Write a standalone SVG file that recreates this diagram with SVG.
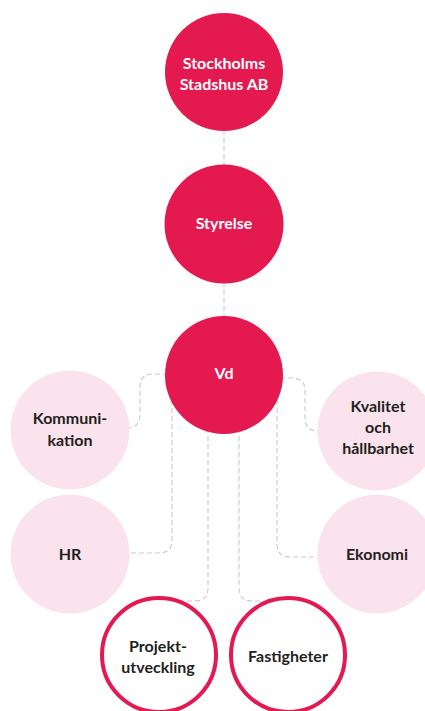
<svg xmlns="http://www.w3.org/2000/svg" width="425" height="711" viewBox="0 0 425 711">
<style>
.conn{fill:none;stroke:#c9c9c9;stroke-width:1.1;stroke-dasharray:5 3}
.main{fill:#E31950}
.soft{fill:#FAE3EC}
.ring{fill:#ffffff;stroke:#E31950;stroke-width:4}
text{font-family:"Lato","Noto Sans","Liberation Sans",sans-serif;font-weight:bold;font-size:16px;text-anchor:middle}
.w{fill:#ffffff}
.d{fill:#231f20}
</style>
<rect width="425" height="711" fill="#ffffff"/>
<g id="connectors">
<path class="conn" d="M224,130 V166"/>
<path class="conn" d="M224,282 V318"/>
<path class="conn" d="M168,374 H153 Q140,374 140,387 V414 Q140,428 127,428"/>
<path class="conn" d="M280,378 H292 Q305,378 305,391 V418 Q305,431 318,431"/>
<path class="conn" d="M172,400 V540 Q172,553 159,553 H128"/>
<path class="conn" d="M208,420 V588 Q208,601 195,601 H186"/>
<path class="conn" d="M239,420 V588 Q239,601 252,601 H262"/>
<path class="conn" d="M277,400 V544 Q277,557 290,557 H318"/>
</g>
<g id="node-stadshus">
<circle class="main" cx="224" cy="72" r="59"/>
<text class="w" x="224" y="69">Stockholms</text>
<text class="w" x="224" y="90">Stadshus AB</text>
</g>
<g id="node-styrelse">
<circle class="main" cx="224" cy="224" r="59.5"/>
<text class="w" x="224" y="229">Styrelse</text>
</g>
<g id="node-vd">
<circle class="main" cx="224" cy="375" r="59"/>
<text class="w" x="224" y="379">Vd</text>
</g>
<g id="node-kommunikation">
<circle class="soft" cx="70" cy="430" r="59.5"/>
<text class="d" x="70" y="424">Kommuni-</text>
<text class="d" x="70" y="446">kation</text>
</g>
<g id="node-kvalitet">
<circle class="soft" cx="377" cy="431" r="59.5"/>
<text class="d" x="378" y="412">Kvalitet</text>
<text class="d" x="378" y="433">och</text>
<text class="d" x="378" y="454">hållbarhet</text>
</g>
<g id="node-hr">
<circle class="soft" cx="70" cy="554" r="59.5"/>
<text class="d" x="70" y="560">HR</text>
</g>
<g id="node-ekonomi">
<circle class="soft" cx="377" cy="554" r="59.5"/>
<text class="d" x="377" y="560">Ekonomi</text>
</g>
<g id="node-projektutveckling">
<circle class="ring" cx="159" cy="655" r="57"/>
<text class="d" x="158" y="652">Projekt-</text>
<text class="d" x="158" y="673">utveckling</text>
</g>
<g id="node-fastigheter">
<circle class="ring" cx="288" cy="655" r="57"/>
<text class="d" x="288" y="662">Fastigheter</text>
</g>
</svg>
